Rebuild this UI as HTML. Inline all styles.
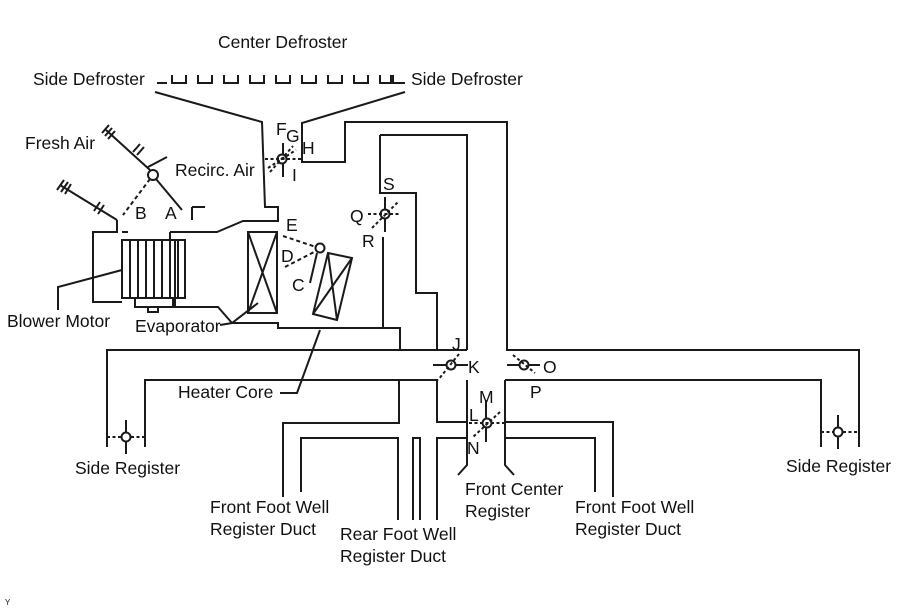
<!DOCTYPE html>
<html><head><meta charset="utf-8"><style>
html,body{margin:0;padding:0;background:#fff;}
svg{display:block;}
text{font-family:"Liberation Sans",Arial,sans-serif;font-size:17.5px;fill:#111;}
</style></head><body>
<svg width="907" height="610" viewBox="0 0 907 610" xmlns="http://www.w3.org/2000/svg">
<g fill="none" stroke="#1a1a1a" stroke-width="2">
<path d="M157 83 H167 M172 75 V83 H186 V75 M198 75 V83 H212 V75 M224 75 V83 H238 V75 M250 75 V83 H264 V75 M276 75 V83 H290 V75 M302 75 V83 H316 V75 M328 75 V83 H342 V75 M354 75 V83 H368 V75 M380 75 V83 H393 V75 M391 75 V83 H405"/>
<path d="M155 92 L262 122 L265 207 H278 V221 H243 L217 232 H170"/>
<path d="M192 207 L205 207 M192 207 V220"/>
<path d="M405 92 L302 123 V162 H345 V122 H507 V350 H859 V447"/>
<path d="M380 135 H467 V350 M380 135 V193 H416 V293 H437 V350"/>
<path d="M383 237 V328 H400 V350"/>
<path d="M175 290 V307 H218 L232 323 H278 V328 H383"/>
<path d="M107 447 V350 H467"/>
<path d="M145 447 V380 H437 V422 H467 M467 380 V465 L458 475"/>
<path d="M505 380 V465 L514 475 M505 380 H821 V447"/>
<path d="M399 380 V423 H283 V497 M301 492 V438 H398 V520 M413 520 V438 H420 V520 M437 520 V438 H467"/>
<path d="M506 422 H613 V497 M506 438 H595 V492"/>
<!-- blower -->
<path d="M117 220 V232 H93 V302 H122 M128 232 H122 M170 232 V240 M170 240 H175 V290"/>
<path d="M117 220 L60 185"/>
<path d="M94 211 L100 202 M98 214 L104 205"/>
<path d="M57 190 L64 180 M61 192 L68 182 M65 194 L71 184"/>
<rect x="122" y="240" width="63" height="58"/>
<path d="M130 240V298 M138 240V298 M146 240V298 M154 240V298 M162 240V298 M170 240V298 M178 240V298"/>
<path d="M135 298 V307 H173 V298 M148 307 V312 H158 V307"/>
<path d="M122 270 L58 287 V310"/>
<!-- fresh air damper -->
<circle cx="153" cy="175" r="5" fill="#fff"/>
<path d="M150 170 L106 130 M148 167 L167 157 M156 179 L182 210"/>
<path d="M133 152 L140 144 M137 155 L144 147"/>
<path d="M102 133 L109 125 M105 136 L112 128 M108 139 L115 131"/>
<path d="M150 179 L123 215" stroke-dasharray="4 3"/>
<!-- evaporator -->
<rect x="248" y="232" width="29" height="81"/>
<path d="M248 232 L277 313 M277 232 L248 313"/>
<path d="M258 303 L232 323 L220 325"/>
<!-- heater core -->
<path d="M328 253 L352 258 L337 320 L313 314 Z M328 253 L337 320 M352 258 L313 314"/>
<path d="M320 330 L297 393 H280"/>
<circle cx="320" cy="248" r="4.5" fill="#fff"/>
<path d="M283 236 L316 247 M285 267 L316 251" stroke-dasharray="4 3"/>
<path d="M317 253 L310 283"/>
<circle cx="282" cy="159" r="4.5" fill="#fff"/>
<path d="M283 143 V154 M283 164 V177"/>
<path d="M265 159 H302 M270 172 L293 146 M268 168 L296 150" stroke-dasharray="3 2.5"/>
<circle cx="385" cy="214" r="4.5" fill="#fff"/>
<path d="M385 197 V209 M385 219 V232"/>
<path d="M368 214 H400 M372 228 L398 202" stroke-dasharray="3 2.5"/>
<circle cx="451" cy="365" r="4.5" fill="#fff"/>
<path d="M433 365 H446 M456 365 H468"/>
<path d="M459 354 L438 380" stroke-dasharray="3 2.5"/>
<circle cx="524" cy="365" r="4.5" fill="#fff"/>
<path d="M507 365 H519 M529 365 H540"/>
<path d="M513 355 L535 373" stroke-dasharray="3 2.5"/>
<circle cx="487" cy="423" r="4.5" fill="#fff"/>
<path d="M486 400 V418 M486 428 V442"/>
<path d="M469 423 H506 M500 412 L473 437" stroke-dasharray="3 2.5"/>
<circle cx="126" cy="437" r="4.5" fill="#fff"/>
<path d="M126 420 V432 M126 442 V454"/>
<path d="M107 437 H121 M131 437 H145" stroke-dasharray="3 2.5"/>
<circle cx="838" cy="432" r="4.5" fill="#fff"/>
<path d="M838 415 V427 M838 437 V449"/>
<path d="M821 432 H833 M843 432 H859" stroke-dasharray="3 2.5"/>
</g>
<g>
<text x="218" y="48">Center Defroster</text>
<text x="33" y="85">Side Defroster</text>
<text x="411" y="85">Side Defroster</text>
<text x="25" y="149">Fresh Air</text>
<text x="175" y="176">Recirc. Air</text>
<text x="135" y="219">B</text>
<text x="165" y="219">A</text>
<text x="286" y="231">E</text>
<text x="281" y="262">D</text>
<text x="292" y="291">C</text>
<text x="276" y="135">F</text>
<text x="286" y="142">G</text>
<text x="302" y="154">H</text>
<text x="292" y="181">I</text>
<text x="383" y="190">S</text>
<text x="350" y="222">Q</text>
<text x="362" y="247">R</text>
<text x="452" y="350">J</text>
<text x="468" y="373">K</text>
<text x="543" y="373">O</text>
<text x="530" y="398">P</text>
<text x="479" y="403">M</text>
<text x="469" y="421">L</text>
<text x="467" y="454">N</text>
<text x="7" y="327">Blower Motor</text>
<text x="135" y="332">Evaporator</text>
<text x="178" y="398">Heater Core</text>
<text x="75" y="474">Side Register</text>
<text x="786" y="472">Side Register</text>
<text x="210" y="513">Front Foot Well</text>
<text x="210" y="535">Register Duct</text>
<text x="340" y="540">Rear Foot Well</text>
<text x="340" y="562">Register Duct</text>
<text x="465" y="495">Front Center</text>
<text x="465" y="517">Register</text>
<text x="575" y="513">Front Foot Well</text>
<text x="575" y="535">Register Duct</text>
<text x="5" y="605" style="font-size:8px">Y</text>
</g>
</svg>
</body></html>
